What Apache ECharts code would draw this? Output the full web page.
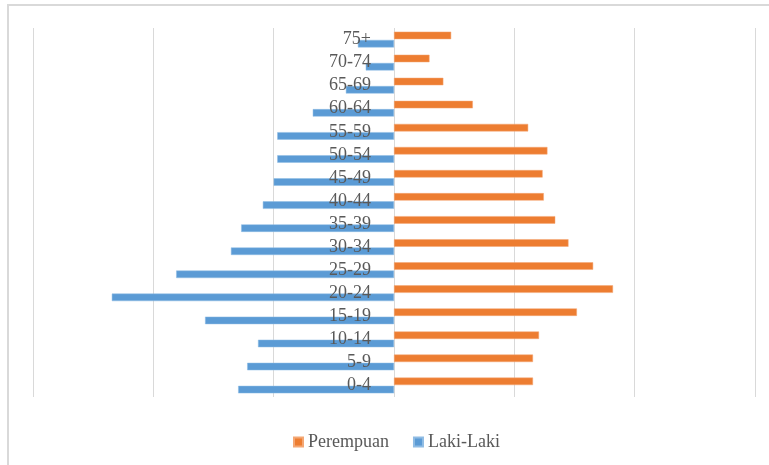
<!DOCTYPE html>
<html>
<head>
<meta charset="utf-8">
<script src="https://cdn.jsdelivr.net/npm/echarts@6/dist/echarts.min.js"></script>
<style>html,body{margin:0;padding:0;background:#fff;}#c{width:769px;height:465px;}</style>
</head>
<body>
<div id="c"></div>
<script>
var categories = ['0-4','5-9','10-14','15-19','20-24','25-29','30-34','35-39','40-44','45-49','50-54','55-59','60-64','65-69','70-74','75+'];
var perempuan = [1155, 1155, 1205, 1520, 1820, 1655, 1450, 1340, 1245, 1235, 1275, 1115, 655, 410, 295, 475];
var lakiLaki = [1295, 1220, 1130, 1570, 2345, 1810, 1355, 1270, 1090, 1000, 970, 970, 675, 400, 235, 300];
var xTicks = [-3000, -2000, -1000, 0, 1000, 2000, 3000];

var chart = echarts.init(document.getElementById('c'));
var serif = '"Liberation Serif", "DejaVu Serif", serif';
chart.setOption({
  animation: false,
  backgroundColor: '#ffffff',
  graphic: [{
    type: 'rect', silent: true, z: -10,
    shape: { x: 8, y: 5, width: 820, height: 520 },
    style: { fill: 'none', stroke: '#d9d9d9', lineWidth: 2 }
  }],
  grid: { left: 33, right: 14, top: 28, bottom: 68, containLabel: false, outerBoundsMode: 'none' },
  legend: {
    left: 288, top: 428,
    itemWidth: 9, itemHeight: 9, itemGap: 24,
    icon: 'rect',
    textStyle: { fontFamily: serif, fontSize: 18, color: '#595959' },
    data: ['Perempuan', 'Laki-Laki']
  },
  xAxis: {
    type: 'value', min: xTicks[0], max: xTicks[xTicks.length - 1], interval: 1000,
    axisLabel: { show: false }, axisTick: { show: false }, axisLine: { show: false },
    splitLine: { show: true, lineStyle: { color: '#d9d9d9', width: 1 } }
  },
  yAxis: {
    type: 'category', data: categories, z: 20,
    axisLine: { show: false, onZero: false },
    axisTick: { show: false },
    axisLabel: { interval: 0, margin: -338, padding: [3, 0, 0, 0], fontFamily: serif, fontSize: 18, color: '#595959' },
    splitLine: { show: false }
  },
  series: [
    { name: 'Perempuan', type: 'bar', data: perempuan, barWidth: 7.5, barGap: '10%',
      itemStyle: { color: '#ED7D31', borderColor: '#f4a774', borderWidth: 0.5 } },
    { name: 'Laki-Laki', type: 'bar', data: lakiLaki.map(function (v) { return -v; }), barWidth: 7.5, barGap: '10%',
      itemStyle: { color: '#5B9BD5', borderColor: '#8fbce4', borderWidth: 0.5 } }
  ]
});
</script>
</body>
</html>
